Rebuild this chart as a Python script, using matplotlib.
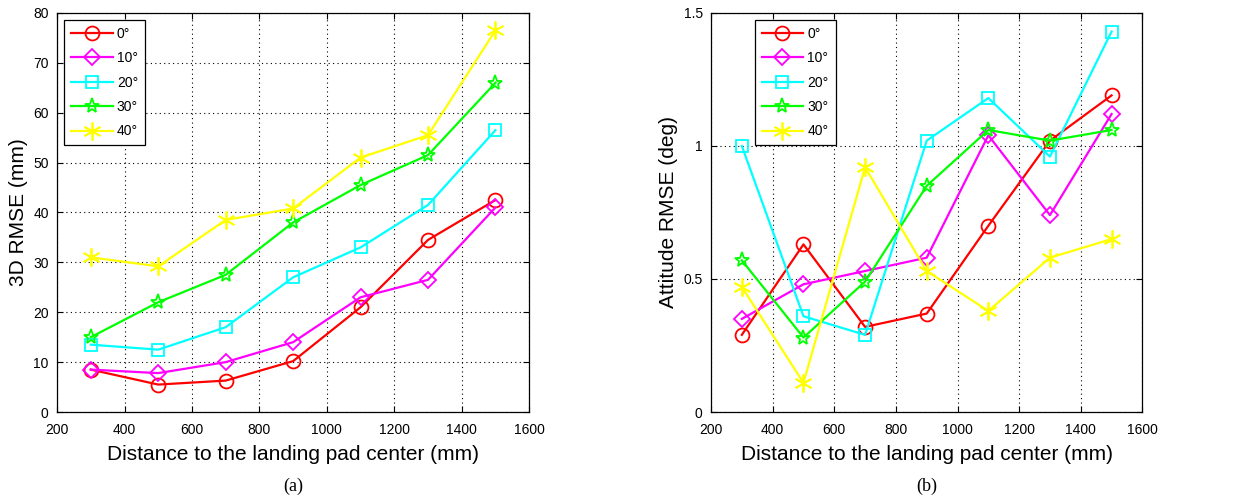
import matplotlib
matplotlib.use("Agg")
import matplotlib.pyplot as plt

plt.rcParams['font.family'] = ['Liberation Sans', 'DejaVu Sans']

distance = [300, 500, 700, 900, 1100, 1300, 1500]
labels = ['0°', '10°', '20°', '30°', '40°']
colors = ['red', 'magenta', 'cyan', 'lime', 'yellow']
markers = ['o', 'D', 's', '*', (6, 2, 0)]
msizes = [10, 8, 9, 11, 13]

# 3D position RMSE (mm)
pos_0 = [8.5, 5.5, 6.3, 10.2, 21.0, 34.5, 42.5]
pos_10 = [8.5, 7.8, 10.0, 14.0, 23.0, 26.5, 41.0]
pos_20 = [13.5, 12.5, 17.0, 27.0, 33.0, 41.5, 56.5]
pos_30 = [15.0, 22.0, 27.5, 38.0, 45.5, 51.5, 66.0]
pos_40 = [31.0, 29.2, 38.5, 40.8, 51.0, 55.5, 76.5]

# attitude RMSE (deg)
att_0 = [0.29, 0.63, 0.32, 0.37, 0.70, 1.02, 1.19]
att_10 = [0.35, 0.48, 0.53, 0.58, 1.04, 0.74, 1.12]
att_20 = [1.00, 0.36, 0.29, 1.02, 1.18, 0.96, 1.43]
att_30 = [0.57, 0.28, 0.49, 0.85, 1.06, 1.02, 1.06]
att_40 = [0.47, 0.11, 0.92, 0.53, 0.38, 0.58, 0.65]

pos = [pos_0, pos_10, pos_20, pos_30, pos_40]
att = [att_0, att_10, att_20, att_30, att_40]

fig = plt.figure(figsize=(12.54, 4.97), dpi=100)
ax1 = fig.add_axes([0.0455, 0.171, 0.3765, 0.803])
ax2 = fig.add_axes([0.567, 0.171, 0.344, 0.803])


def draw(ax, series, ylim, yticks, ylabel, caption, legend_anchor):
    for ys, lab, c, m, ms in zip(series, labels, colors, markers, msizes):
        ax.plot(distance, ys, color=c, marker=m, markersize=ms, markerfacecolor='none',
                markeredgecolor=c, markeredgewidth=1.3, linewidth=1.6, label=lab)
    ax.set_xlim(200, 1600)
    ax.set_ylim(*ylim)
    ax.set_xticks(range(200, 1601, 200))
    ax.set_yticks(yticks)
    ax.grid(True, color='black', linestyle=(0, (1, 3)), linewidth=0.8)
    ax.tick_params(direction='in', top=True, right=True, labelsize=10, length=4)
    ax.tick_params(axis='x', pad=8)
    ax.tick_params(axis='y', pad=6)
    for s in ax.spines.values():
        s.set_linewidth(0.9)
    ax.set_xlabel('Distance to the landing pad center (mm)', fontsize=15, labelpad=6)
    ax.set_ylabel(ylabel, fontsize=15, labelpad=4)
    ax.text(0.5, -0.165, caption, transform=ax.transAxes, ha='center', va='top',
            fontsize=13, family='Liberation Serif')
    leg = ax.legend(loc='upper left', bbox_to_anchor=legend_anchor, fancybox=False,
                    edgecolor='black', framealpha=1, fontsize=10, handlelength=3.0,
                    borderpad=0.5, labelspacing=0.75, handletextpad=0.3)
    leg.get_frame().set_linewidth(0.9)


draw(ax1, pos, (0, 80), range(0, 81, 10), '3D RMSE (mm)', '(a)', (0.0, 1.0))
draw(ax2, att, (0, 1.5), [0, 0.5, 1, 1.5], 'Attitude RMSE (deg)', '(b)', (0.085, 1.0))
ax2.set_yticklabels(['0', '0.5', '1', '1.5'])

fig.savefig('out.png', dpi=100)
